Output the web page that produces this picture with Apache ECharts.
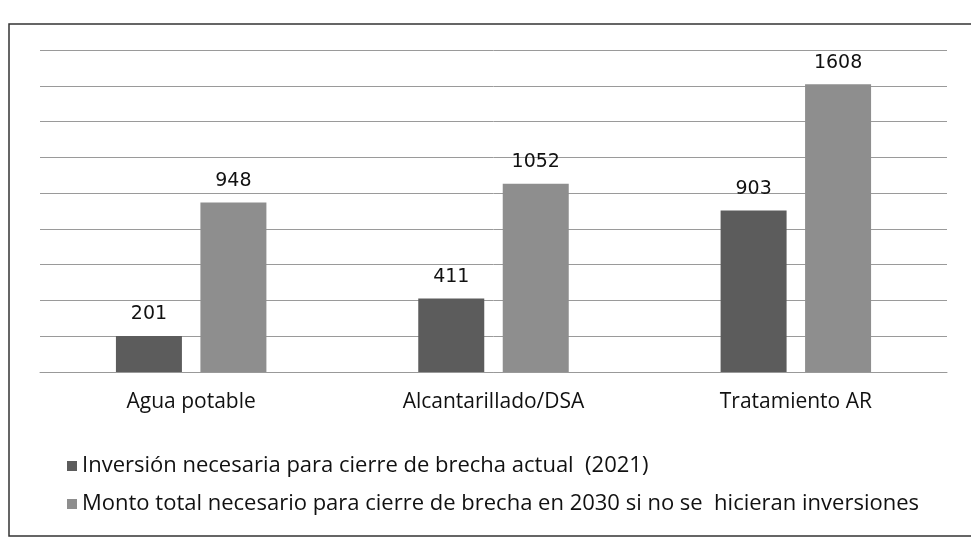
<!DOCTYPE html>
<html>
<head>
<meta charset="utf-8">
<script src="https://cdn.jsdelivr.net/npm/echarts@6/dist/echarts.min.js"></script>
<style>
  html, body { margin: 0; padding: 0; background: #fff; }
  #chart { width: 971px; height: 542px; }
</style>
</head>
<body>
<div id="chart"></div>
<script>
const categories = ["Agua potable", "Alcantarillado/DSA", "Tratamiento AR"];
const inversion2021 = [201, 411, 903];
const monto2030 = [948, 1052, 1608];
const seriesNames = [
  "Inversión necesaria para cierre de brecha actual  (2021)",
  "Monto total necesario para cierre de brecha en 2030 si no se  hicieran inversiones"
];

const chart = echarts.init(document.getElementById("chart"));

// value labels above the bars
const labelStyle = {
  show: true,
  position: "top",
  distance: 12,
  color: "#111",
  fontSize: 19,
  fontFamily: "DejaVu Sans"
};

chart.setOption({
  animation: false,
  textStyle: { fontFamily: "Open Sans" },
  graphic: [
    {
      type: "rect",
      shape: { x: 9, y: 24, width: 990, height: 512 },
      style: { fill: "none", stroke: "#333", lineWidth: 1.5 },
      silent: true
    }
  ],
  grid: {
    left: 40,
    right: 24,
    top: 50,
    bottom: 170
  },
  legend: {
    orient: "vertical",
    left: 62,
    top: 450,
    itemWidth: 10,
    itemHeight: 10,
    itemGap: 16,
    icon: "rect",
    textStyle: { color: "#111", fontSize: 22, fontFamily: "Open Sans" },
    data: seriesNames
  },
  xAxis: {
    type: "category",
    data: categories,
    axisLine: { lineStyle: { color: "#999" } },
    axisTick: { show: false },
    axisLabel: { color: "#111", fontSize: 21, margin: 20 }
  },
  yAxis: {
    type: "value",
    min: 0,
    max: 1800,
    interval: 200,
    axisLabel: { show: false },
    axisLine: { show: false },
    axisTick: { show: false },
    splitLine: { lineStyle: { color: "#9a9a9a", width: 1 } }
  },
  series: [
    {
      name: seriesNames[0],
      type: "bar",
      data: inversion2021,
      barWidth: 66,
      barGap: "28%",
      itemStyle: { color: "#5c5c5c" },
      label: labelStyle
    },
    {
      name: seriesNames[1],
      type: "bar",
      data: monto2030,
      barWidth: 66,
      itemStyle: { color: "#8e8e8e" },
      label: labelStyle
    }
  ]
});
</script>
</body>
</html>
